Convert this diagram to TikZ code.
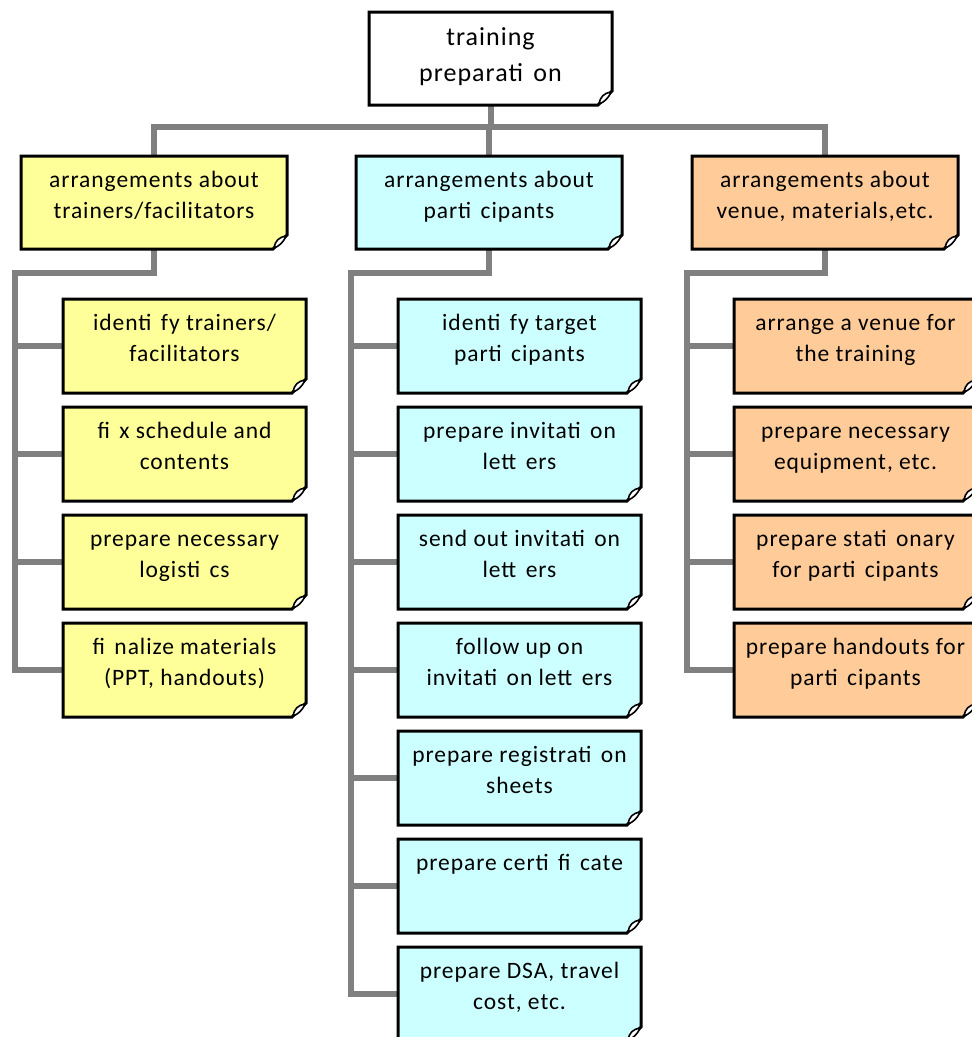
\documentclass[tikz,border=0pt]{standalone}
\usepackage{fontspec}
\setmainfont{Carlito}[LetterSpace=4]
\usetikzlibrary{backgrounds,calc}

\definecolor{noteyellow}{HTML}{FFFF99}
\definecolor{notecyan}{HTML}{CCFFFF}
\definecolor{noteorange}{HTML}{FFCC99}
\definecolor{linkgray}{HTML}{808080}

% gap left by a missing ligature glyph
\newcommand\lgap{\hspace{0.4em}}

% top-aligned text block that fills a whole note
\newcommand\notetext[3]{%
  \parbox[c][#2pt][t]{#1pt}{\centering\fontsize{23.5}{31}\selectfont
    \vspace*{10pt}\strut #3\par}}
\newcommand\roottext[3]{%
  \parbox[c][#2pt][t]{#1pt}{\centering\fontsize{26}{36}\selectfont
    \vspace*{8.5pt}\strut #3\par}}

% sticky note outline with a curled bottom-right corner
\newcommand\noteshape[2]{%
  \filldraw[fill=#2, draw=black, line width=3pt, line join=miter]
    (#1.north west) -- (#1.north east) -- ([yshift=14pt]#1.south east)
    -- ([xshift=-14pt]#1.south east) -- (#1.south west) -- cycle;
  \filldraw[fill=white, draw=black, line width=1.6pt]
    ([xshift=-13pt,yshift=1pt]#1.south east)
    .. controls ([xshift=-12pt,yshift=8pt]#1.south east)
    and ([xshift=-8pt,yshift=12pt]#1.south east)
    .. ([xshift=-1pt,yshift=13pt]#1.south east)
    .. controls ([xshift=-4pt,yshift=6pt]#1.south east)
    and ([xshift=-8pt,yshift=3pt]#1.south east)
    .. cycle;}

\tikzset{
  note/.style={inner sep=0pt, outer sep=0pt},
  link/.style={draw=linkgray, line width=6pt, line join=miter}
}

\begin{document}
\begin{tikzpicture}[x=1pt, y=-1pt]
\useasboundingbox (0,0) rectangle (972,1037);

% root
\node[note] (root) at (490.5,58.5) {\roottext{243}{93}{training\\ preparati\lgap on}};

% first level
\node[note] (trn) at (154,202.5) {\notetext{266}{93}{arrangements about\\ trainers/facilitators}};
\node[note] (par) at (489,202.5) {\notetext{266}{93}{arrangements about\\ parti\lgap cipants}};
\node[note] (ven) at (825,202.5) {\notetext{266}{93}{arrangements about\\ venue, materials,etc.}};

% trainers / facilitators tasks
\node[note] (t1) at (184.5,346) {\notetext{243}{94}{identi\lgap fy trainers/\\ facilitators}};
\node[note] (t2) at (184.5,454) {\notetext{243}{94}{fi\lgap x schedule and\\ contents}};
\node[note] (t3) at (184.5,562) {\notetext{243}{94}{prepare necessary\\ logisti\lgap cs}};
\node[note] (t4) at (184.5,670) {\notetext{243}{94}{fi\lgap nalize materials\\ (PPT, handouts)}};

% participants tasks
\node[note] (p1) at (519.5,346) {\notetext{243}{94}{identi\lgap fy target\\ parti\lgap cipants}};
\node[note] (p2) at (519.5,454) {\notetext{243}{94}{prepare invitati\lgap on\\ lett\lgap ers}};
\node[note] (p3) at (519.5,562) {\notetext{243}{94}{send out invitati\lgap on\\ lett\lgap ers}};
\node[note] (p4) at (519.5,670) {\notetext{243}{94}{follow up on\\ invitati\lgap on lett\lgap ers}};
\node[note] (p5) at (519.5,778) {\notetext{243}{94}{prepare registrati\lgap on\\ sheets}};
\node[note] (p6) at (519.5,886) {\notetext{243}{94}{prepare certi\lgap fi\lgap cate}};
\node[note] (p7) at (519.5,994) {\notetext{243}{94}{prepare DSA, travel\\ cost, etc.}};

% venue / materials tasks
\node[note] (v1) at (855.5,346) {\notetext{243}{94}{arrange a venue for\\ the training}};
\node[note] (v2) at (855.5,454) {\notetext{243}{94}{prepare necessary\\ equipment, etc.}};
\node[note] (v3) at (855.5,562) {\notetext{243}{94}{prepare stati\lgap onary\\ for parti\lgap cipants}};
\node[note] (v4) at (855.5,670) {\notetext{243}{94}{prepare handouts for\\ parti\lgap cipants}};

\begin{pgfonlayer}{background}
  % connectors
  \draw[link] (root.south) -- ++(0,22) -| (trn.north);
  \draw[link] (root.south) -- ++(0,22) -| (par.north);
  \draw[link] (root.south) -- ++(0,22) -| (ven.north);

  \draw[link] (trn.south) -- ++(0,24) -| ($(t4.west)+(-48,0)$) -- (t4.west);
  \foreach \n in {t1,t2,t3} \draw[link] (\n.west) -- ++(-48,0);

  \draw[link] (par.south) -- ++(0,24) -| ($(p7.west)+(-47,0)$) -- (p7.west);
  \foreach \n in {p1,p2,p3,p4,p5,p6} \draw[link] (\n.west) -- ++(-47,0);

  \draw[link] (ven.south) -- ++(0,24) -| ($(v4.west)+(-47,0)$) -- (v4.west);
  \foreach \n in {v1,v2,v3} \draw[link] (\n.west) -- ++(-47,0);

  % notes
  \noteshape{root}{white}
  \noteshape{trn}{noteyellow}
  \noteshape{par}{notecyan}
  \noteshape{ven}{noteorange}
  \foreach \n in {t1,t2,t3,t4} {\noteshape{\n}{noteyellow}}
  \foreach \n in {p1,p2,p3,p4,p5,p6,p7} {\noteshape{\n}{notecyan}}
  \foreach \n in {v1,v2,v3,v4} {\noteshape{\n}{noteorange}}
\end{pgfonlayer}
\end{tikzpicture}
\end{document}
